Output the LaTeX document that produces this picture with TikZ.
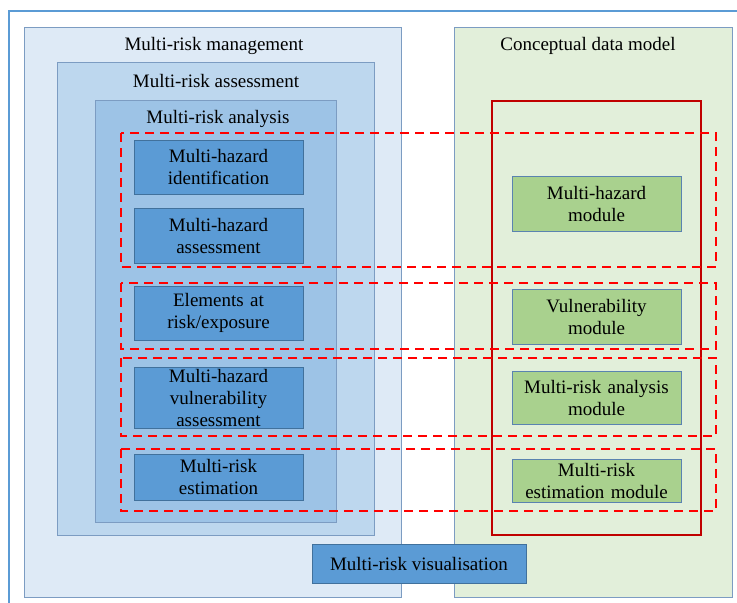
\documentclass[tikz,border=0pt]{standalone}
\usepackage{fontspec}
\setmainfont{Liberation Serif}
\begin{document}
\begin{tikzpicture}[x=1pt, y=-1pt,
  every node/.style={font=\fontsize{19}{22}\selectfont, text=black},
  frame/.style={draw=framecol, line width=1.2pt, anchor=north west, inner sep=0pt},
  title/.style={anchor=north, inner sep=0pt},
  taskbox/.style={draw=taskedge, line width=1pt, fill=taskfill, align=center,
    inner sep=0pt, minimum width=169pt, text width=165pt},
  modbox/.style={draw=modedge, line width=1pt, fill=modfill, align=center,
    inner sep=0pt, minimum width=169pt, text width=165pt},
  group/.style={draw=dashred, line width=2pt, dash pattern=on 9pt off 6pt}]
\definecolor{outerline}{HTML}{5B9BD5}
\definecolor{framecol}{HTML}{7C9CC2}
\definecolor{mgmtfill}{HTML}{DEEAF6}
\definecolor{assfill}{HTML}{BDD7EE}
\definecolor{anafill}{HTML}{9DC3E6}
\definecolor{taskfill}{HTML}{5B9BD5}
\definecolor{taskedge}{HTML}{41719C}
\definecolor{cdmfill}{HTML}{E2EFDA}
\definecolor{modfill}{HTML}{A9D18E}
\definecolor{modedge}{HTML}{5A83B0}
\definecolor{solidred}{HTML}{C00000}
\definecolor{dashred}{HTML}{FF0000}
\useasboundingbox (0,0) rectangle (737,603);

% outer figure frame
\draw[outerline, line width=2pt] (9,603) -- (9,11) -- (737,11);

% nested process boxes
\node[frame, fill=mgmtfill, minimum width=377pt, minimum height=570pt] (mgmt) at (24,27) {};
\node[title] (mgmtT) at (214,37) {Multi-risk management};
\node[frame, fill=assfill, minimum width=317pt, minimum height=473pt] (assess) at (57,62) {};
\node[title] (assessT) at (216,74) {Multi-risk assessment};
\node[frame, fill=anafill, minimum width=241pt, minimum height=422pt] (analysis) at (95,100) {};
\node[title] (analysisT) at (218,110) {Multi-risk analysis};

\node[taskbox, minimum height=54pt] (mhi) at (218.5,167) {Multi-hazard\\identification};
\node[taskbox, minimum height=55pt] (mha) at (218.5,235.5) {Multi-hazard\\assessment};
\node[taskbox, minimum height=54pt] (ear) at (218.5,313) {Elements at\\risk/exposure};
\node[taskbox, minimum height=61pt] (mhv) at (218.5,397.5) {Multi-hazard\\vulnerability\\assessment};
\node[taskbox, minimum height=46pt] (mre) at (218.5,477) {Multi-risk\\estimation};

% conceptual data model
\node[frame, fill=cdmfill, minimum width=278pt, minimum height=570pt] (cdm) at (454,27) {};
\node[title] (cdmT) at (588,37) {Conceptual data model};
\node[draw=solidred, line width=2pt, anchor=north west, inner sep=0pt,
  minimum width=209pt, minimum height=434pt] (core) at (491,100) {};

\node[modbox, minimum height=55pt] (mhm) at (596.5,203.5) {Multi-hazard\\module};
\node[modbox, minimum height=55pt] (vm) at (596.5,316.5) {Vulnerability\\module};
\node[modbox, minimum height=53pt] (mram) at (596.5,397.5) {Multi-risk analysis\\module};
\node[modbox, minimum height=43pt] (mrem) at (596.5,480.5) {Multi-risk\\estimation module};

% dashed groupings linking processes and modules
\draw[group] (121,133) rectangle (716,267);
\draw[group] (121,283) rectangle (716,349);
\draw[group] (121,358) rectangle (716,436);
\draw[group] (121,449) rectangle (716,511);

% visualisation
\node[draw=taskedge, line width=1pt, fill=taskfill, inner sep=0pt,
  minimum width=214pt, minimum height=39pt] (vis) at (419,563.5) {Multi-risk visualisation};
\end{tikzpicture}
\end{document}
